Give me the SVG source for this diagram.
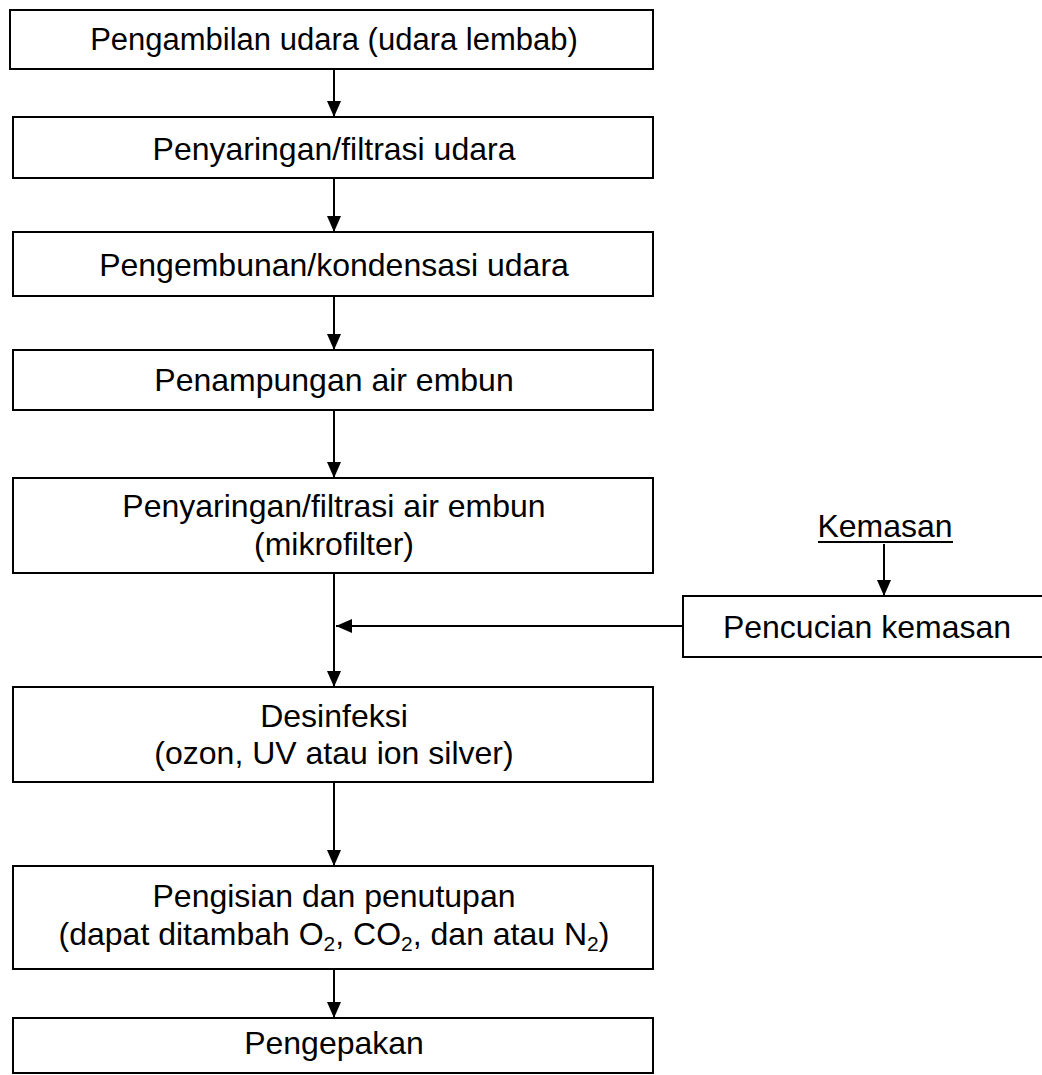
<svg xmlns="http://www.w3.org/2000/svg" width="1042" height="1075" viewBox="0 0 1042 1075">
<style>
.box{fill:#fff;stroke:#000;stroke-width:2}
.t{font-family:"Liberation Sans",Arial,sans-serif;font-size:32px;fill:#000;text-anchor:middle}
.c{stroke:#000;stroke-width:2;fill:none}
.sub{font-size:21px}
</style>
<defs>
<marker id="av" viewBox="0 0 16 14" refX="16" refY="7" markerWidth="16" markerHeight="14" markerUnits="userSpaceOnUse" orient="auto">
<path d="M0,0 L16,7 L0,14 Z" fill="#000"/>
</marker>
</defs>
<rect width="1042" height="1075" fill="#fff"/>
<g id="connectors">
<line class="c" x1="334" y1="69" x2="334" y2="117" marker-end="url(#av)"/>
<line class="c" x1="334" y1="178" x2="334" y2="232" marker-end="url(#av)"/>
<line class="c" x1="334" y1="296" x2="334" y2="350" marker-end="url(#av)"/>
<line class="c" x1="334" y1="410" x2="334" y2="478" marker-end="url(#av)"/>
<line class="c" x1="334" y1="573" x2="334" y2="687" marker-end="url(#av)"/>
<line class="c" x1="683" y1="626" x2="336" y2="626" marker-end="url(#av)"/>
<line class="c" x1="884" y1="544" x2="884" y2="596" marker-end="url(#av)"/>
<line class="c" x1="334" y1="782" x2="334" y2="866" marker-end="url(#av)"/>
<line class="c" x1="334" y1="969" x2="334" y2="1018" marker-end="url(#av)"/>
</g>
<g id="n1"><rect class="box" x="10" y="10" width="643" height="59"/><text class="t" x="334" y="50" style="font-size:31px">Pengambilan udara (udara lembab)</text></g>
<g id="n2"><rect class="box" x="13" y="117" width="640" height="61"/><text class="t" x="334" y="160">Penyaringan/filtrasi udara</text></g>
<g id="n3"><rect class="box" x="13" y="232" width="640" height="64"/><text class="t" x="334" y="276">Pengembunan/kondensasi udara</text></g>
<g id="n4"><rect class="box" x="13" y="350" width="640" height="60"/><text class="t" x="334" y="391">Penampungan air embun</text></g>
<g id="n5"><rect class="box" x="13" y="478" width="640" height="95"/><text class="t" x="334" y="517">Penyaringan/filtrasi air embun</text><text class="t" x="334" y="555">(mikrofilter)</text></g>
<g id="n6"><text class="t" x="885" y="537">Kemasan</text><line x1="818" y1="542" x2="953" y2="542" stroke="#000" stroke-width="2"/></g>
<g id="n7"><rect class="box" x="683" y="596" width="370" height="61"/><text class="t" x="867" y="638">Pencucian kemasan</text></g>
<g id="n8"><rect class="box" x="13" y="687" width="640" height="95"/><text class="t" x="334" y="727">Desinfeksi</text><text class="t" x="334" y="764">(ozon, UV atau ion silver)</text></g>
<g id="n9"><rect class="box" x="13" y="866" width="640" height="103"/><text class="t" x="334" y="907">Pengisian dan penutupan</text><text class="t" x="334" y="945">(dapat ditambah O<tspan class="sub" dy="6">2</tspan><tspan dy="-6">, CO</tspan><tspan class="sub" dy="6">2</tspan><tspan dy="-6">, dan atau N</tspan><tspan class="sub" dy="6">2</tspan><tspan dy="-6">)</tspan></text></g>
<g id="n10"><rect class="box" x="13" y="1018" width="640" height="55"/><text class="t" x="334" y="1054">Pengepakan</text></g>
</svg>
